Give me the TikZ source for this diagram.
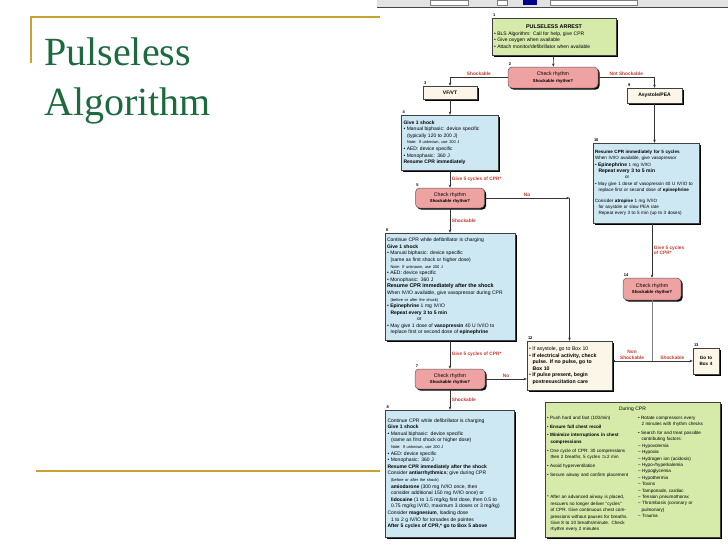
\documentclass[tikz,border=0pt]{standalone}
\usepackage{fontspec}
\setmainfont{Liberation Serif}
\setsansfont{Liberation Sans}
\usetikzlibrary{arrows.meta,shadows}
\definecolor{gold}{HTML}{C9A234}
\definecolor{titlegreen}{HTML}{1C6A3E}
\definecolor{boxgreen}{HTML}{D6EBAA}
\definecolor{boxblue}{HTML}{CDE7F3}
\definecolor{boxpink}{HTML}{EFA2A2}
\definecolor{boxcream}{HTML}{FBF6E8}
\definecolor{labred}{HTML}{C23A2C}
\definecolor{linegray}{HTML}{333333}
\setlength{\parindent}{0pt}
\newcommand{\chartfont}{\sffamily\fontsize{4.6}{6.4}\selectfont}
\newcommand{\widefont}{\fontsize{5}{6.6}\selectfont}
\newcommand{\notefont}{\fontsize{4}{6.6}\selectfont}
\newcommand{\bigbold}{\bfseries\fontsize{5.4}{6.6}\selectfont}
\newcommand{\bl}{\textbullet\ }
\newcommand{\indt}{\hspace*{3.5pt}}
\tikzset{
    box/.style={draw=black!75, line width=0.4pt, inner sep=2pt, font=\chartfont, align=left,
      general shadow={fill=black, shadow xshift=1.6pt, shadow yshift=-1.6pt}},
    boxsize/.style 2 args={text width=#1pt-4pt, minimum height=#2pt},
    greenbox/.style={box, fill=boxgreen},
    bluebox/.style={box, fill=boxblue},
    creambox/.style={box, fill=boxcream},
    pinkbox/.style={box, fill=boxpink, draw=black!65, line width=0.5pt, rounded corners=4pt, align=center},
    numlab/.style={font=\sffamily\bfseries\fontsize{4}{4}\selectfont, anchor=south west, inner sep=1pt},
    redlab/.style={font=\sffamily\bfseries\fontsize{4.8}{5.6}\selectfont, text=labred, inner sep=1.5pt},
    slidetitle/.style={font=\fontsize{40}{48}\selectfont, text=titlegreen, inner sep=0pt},
    link/.style={draw=linegray, line width=0.6pt},
    arr/.style={link, -{Stealth[length=3.2pt,width=2.6pt]}},
    arrboth/.style={link, {Stealth[length=3.2pt,width=2.6pt]}-{Stealth[length=3.2pt,width=2.6pt]}},
}
\begin{document}
\begin{tikzpicture}[x=1pt,y=-1pt]
  % page in pixels, y downwards
  \useasboundingbox (0,0) rectangle (728,546);
  % slide frame and title
  \draw[gold, line width=1.4pt] (30,17) -- (380,17) (31,17) -- (31,63);
  \draw[gold, line width=1.4pt] (36,471) -- (380,471);
  \node[slidetitle, anchor=base west] (T1) at (44,65) {Pulseless};
  \node[slidetitle, anchor=base west] (T2) at (44,115) {Algorithm};
  % toolbar of the scan
  \fill[gray!22] (377,0) rectangle (728,7.5);
  \draw[gray!55!black, line width=0.8pt] (377,7.5) -- (728,7.5);
  \filldraw[fill=white, draw=gray] (430,0) rectangle (468,5) (497,0) rectangle (507,5) (550,0) rectangle (637,5);
  \fill[blue!55!black] (523,0) rectangle (537,5);

  % boxes
  \node[greenbox, boxsize={124}{37}, label={[numlab]north west:1}] (B1) at (554,36.5) {%
    {\centering\bfseries\fontsize{5.4}{7.5}\selectfont PULSELESS ARREST\par}
    \fontsize{5}{6.6}\selectfont
    \bl BLS Algorithm: Call for help, give CPR\\
    \bl Give oxygen when available\\
    \bl Attach monitor/defibrillator when available};
  \node[pinkbox, boxsize={90}{21}, label={[numlab]north west:2}] (B2) at (553,77.5)
    {{\fontsize{5.2}{6.2}\selectfont Check rhythm}\\{\bfseries\fontsize{4.3}{5.5}\selectfont Shockable rhythm?}};
  \node[creambox, align=center, boxsize={54}{13}, label={[numlab]north west:3}] (B3) at (450,92.5)
    {\bfseries\fontsize{5}{6}\selectfont VF/VT};
  \node[creambox, align=center, boxsize={55}{15}, label={[numlab]north west:9}] (B9) at (654.5,95.5)
    {\bfseries\fontsize{5}{6}\selectfont Asystole/PEA};
  \node[bluebox, boxsize={97}{55}, label={[numlab]north west:4}] (B4) at (450,142.5) {%
    \widefont
    \textbf{Give 1 shock}\\
    \bl Manual biphasic: device specific\\
    \indt(typically 120 to 200 J)\\
    \indt{\notefont Note: If unknown, use 200 J}\\
    \bl AED: device specific\\
    \bl Monophasic: 360 J\\
    \textbf{Resume CPR immediately}};
  \node[pinkbox, boxsize={69}{20}, label={[numlab]north west:5}] (B5) at (450,198)
    {{\fontsize{5.2}{6.2}\selectfont Check rhythm}\\{\bfseries\fontsize{4.3}{5.5}\selectfont Shockable rhythm?}};
  \node[bluebox, boxsize={130}{107}, label={[numlab]north west:6}] (B6) at (450,286.5) {%
    \widefont
    Continue CPR while defibrillator is charging\\
    \textbf{Give 1 shock}\\
    \bl Manual biphasic: device specific\\
    \indt(same as first shock or higher dose)\\
    \indt{\notefont Note: If unknown, use 200 J}\\
    \bl AED: device specific\\
    \bl Monophasic: 360 J\\
    {\bigbold Resume CPR immediately after the shock}\\
    When IV/IO available, give vasopressor during CPR\\
    \indt{\notefont (before or after the shock)}\\
    \bl\textbf{Epinephrine} 1 mg IV/IO\\
    \indt\textbf{Repeat every 3 to 5 min}\\
    \hspace*{30pt}or\\
    \bl May give 1 dose of \textbf{vasopressin} 40 U IV/IO to\\
    \indt replace first or second dose of \textbf{epinephrine}};
  \node[pinkbox, boxsize={70}{20}, label={[numlab]north west:7}] (B7) at (450,379)
    {{\fontsize{5.2}{6.2}\selectfont Check rhythm}\\{\bfseries\fontsize{4.3}{5.5}\selectfont Shockable rhythm?}};
  \node[bluebox, boxsize={129}{127}, label={[numlab]north west:8}] (B8) at (450,473.5) {%
    \widefont
    Continue CPR while defibrillator is charging\\
    \textbf{Give 1 shock}\\
    \bl Manual biphasic: device specific\\
    \indt(same as first shock or higher dose)\\
    \indt{\notefont Note: If unknown, use 200 J}\\
    \bl AED: device specific\\
    \bl Monophasic: 360 J\\
    \textbf{Resume CPR immediately after the shock}\\
    Consider \textbf{antiarrhythmics}; give during CPR\\
    \indt{\notefont (before or after the shock)}\\
    \indt\textbf{amiodarone} (300 mg IV/IO once, then\\
    \indt consider additional 150 mg IV/IO once) or\\
    \indt\textbf{lidocaine} (1 to 1.5 mg/kg first dose, then 0.5 to\\
    \indt 0.75 mg/kg IV/IO, maximum 3 doses or 3 mg/kg)\\
    Consider \textbf{magnesium}, loading dose\\
    \indt 1 to 2 g IV/IO for torsades de pointes\\
    \textbf{After 5 cycles of CPR,* go to Box 5 above}};
  \node[bluebox, boxsize={106}{80}, label={[numlab]north west:10}] (B10) at (646,183) {%
    \textbf{Resume CPR immediately for 5 cycles}\\
    When IV/IO available, give vasopressor\\
    \bl{\bfseries\fontsize{5}{6.4}\selectfont Epinephrine} 1 mg IV/IO\\
    \indt{\bfseries\fontsize{5}{6.4}\selectfont Repeat every 3 to 5 min}\\
    \hspace*{30pt}or\\
    \bl May give 1 dose of vasopressin 40 U IV/IO to\\
    \indt replace first or second dose of \textbf{epinephrine}\\[4pt]
    Consider \textbf{atropine} 1 mg IV/IO\\
    \indt for asystole or slow PEA rate\\
    \indt Repeat every 3 to 5 min (up to 3 doses)};
  \node[pinkbox, boxsize={58}{22}, label={[numlab]north west:14}] (B14) at (652,289)
    {{\fontsize{5.2}{6.2}\selectfont Check rhythm}\\{\bfseries\fontsize{4.3}{5.5}\selectfont Shockable rhythm?}};
  \node[creambox, boxsize={85}{49}, label={[numlab]north west:12}] (B12) at (569.5,365.5) {%
    \fontsize{5.2}{6.6}\selectfont
    \bl If asystole, go to Box 10\\
    \bl\textbf{If electrical activity, check}\\
    \indt\textbf{pulse. If no pulse, go to}\\
    \indt\textbf{Box 10}\\
    \bl\textbf{If pulse present, begin}\\
    \indt\textbf{postresuscitation care}};
  \node[creambox, align=center, boxsize={26}{26}, label={[numlab]north west:13}] (B13) at (706,361)
    {\bfseries Go to\\Box 4};
  \node[greenbox, boxsize={175}{135}] (B15) at (632.5,469.5) {%
    {\centering\fontsize{5}{6.6}\selectfont During CPR\par}\vspace{2pt}
    \parbox[t]{88pt}{%
      \bl Push hard and fast (100/min)\\[2.5pt]
      \bl\textbf{Ensure full chest recoil}\\[2.5pt]
      \bl\textbf{Minimize interruptions in chest}\\
      \indt\textbf{compressions}\\[2.5pt]
      \bl One cycle of CPR: 30 compressions\\
      \indt then 2 breaths; 5 cycles $\approx$2 min\\[2.5pt]
      \bl Avoid hyperventilation\\[2.5pt]
      \bl Secure airway and confirm placement\\[16pt]
      * After an advanced airway is placed,\\
      \indt rescuers no longer deliver ``cycles''\\
      \indt of CPR. Give continuous chest com-\\
      \indt pressions without pauses for breaths.\\
      \indt Give 8 to 10 breaths/minute. Check\\
      \indt rhythm every 2 minutes}\hspace{3pt}%
    \parbox[t]{80pt}{%
      \bl Rotate compressors every\\
      \indt 2 minutes with rhythm checks\\[2.5pt]
      \bl Search for and treat possible\\
      \indt contributing factors:\\
      -- Hypovolemia\\
      -- Hypoxia\\
      -- Hydrogen ion (acidosis)\\
      -- Hypo-/hyperkalemia\\
      -- Hypoglycemia\\
      -- Hypothermia\\
      -- Toxins\\
      -- Tamponade, cardiac\\
      -- Tension pneumothorax\\
      -- Thrombosis (coronary or\\
      \indt pulmonary)\\
      -- Trauma}};

  % connectors
  \coordinate (C5) at (B12.north |- B5.east);
  \coordinate (J) at (652,361);
  \draw[arr] (B1) -- (B2);
  \draw[arr] (B2.west) -| (B3.north) node[pos=0.25, above, redlab] {Shockable};
  \draw[arr] (B2.east) -| (B9.north) node[pos=0.25, above, redlab] {Not Shockable};
  \draw[arr] (B3) -- (B4);
  \draw[arr] (B4) -- (B5) node[midway, right, redlab] {Give 5 cycles of CPR*};
  \draw[arr] (B5.east) -- (C5) node[midway, above, redlab] {No};
  \draw[arr] (C5) -- (B12.north);
  \draw[arr] (B5) -- (B6) node[midway, right, redlab] {Shockable};
  \draw[arr] (B6) -- (B7) node[midway, right, redlab] {Give 5 cycles of CPR*};
  \draw[arr] (B7.east) -- (B7.east -| B12.west) node[midway, above, redlab] {No};
  \draw[arr] (B7) -- (B8) node[midway, right, redlab] {Shockable};
  \draw[arr] (B9.south) -- (B9.south |- B10.north);
  \draw[arr] (B14.north |- B10.south) -- (B14.north)
    node[midway, right, redlab, align=left] {Give 5 cycles\\of CPR*};
  \draw[link, draw=gray] (B14.south) -- (J);
  \draw[arr] (J) -- (J -| B12.east) node[midway, above, redlab, align=center] {Non\\Shockable};
  \draw[arr] (J) -- (J -| B13.west) node[midway, above, redlab] {Shockable};
\end{tikzpicture}
\end{document}
